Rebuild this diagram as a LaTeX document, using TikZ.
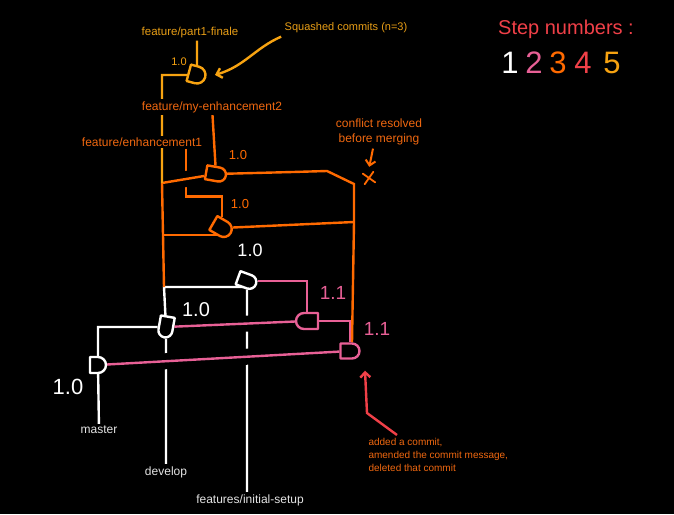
\documentclass[tikz,border=0pt]{standalone}
\usepackage{fontspec}
\setmainfont{Liberation Sans}
\usetikzlibrary{arrows.meta, shapes.misc}
\definecolor{stepB}{RGB}{232,96,150}
\definecolor{stepC}{RGB}{255,106,0}
\definecolor{stepD}{RGB}{240,64,72}
\definecolor{stepE}{RGB}{247,163,17}
\definecolor{labelC}{RGB}{240,104,16}
\definecolor{labelE}{RGB}{232,158,22}
\definecolor{labelW}{RGB}{228,228,228}
\pgfdeclarelayer{bg}
\pgfsetlayers{bg,main}

\begin{document}
\begin{tikzpicture}[x=1pt, y=-1pt, line cap=round, line join=round,
    commit/.style={draw, fill=black, line width=2.4pt, rounded rectangle,
      rounded rectangle west arc=none, inner sep=0pt},
    branch/.style={fill=black, inner sep=2pt, font=\fontsize{12}{14}\selectfont},
    ver/.style={inner sep=0pt, font=\fontsize{#1}{#1}\selectfont},
    pen/.style={line width=2.4pt},
    knock/.style={draw=black, line width=16pt, line cap=butt},
    barb/.style={-{Straight Barb[length=5pt, width=10pt]}}]
    \useasboundingbox (0,0) rectangle (674,514);

    % commits
    \node[commit, draw=white, minimum width=15pt, minimum height=16pt] (cm) at (98,365) {};
    \node[commit, draw=white, minimum width=21pt, minimum height=14pt, rotate=-100] (cd) at (166,327) {};
    \node[commit, draw=white, minimum width=19pt, minimum height=14pt, rotate=-20] (ci) at (247,281) {};
    \node[commit, draw=stepB, minimum width=22pt, minimum height=16pt, rotate=180] (p1) at (307,321) {};
    \node[commit, draw=stepB, minimum width=19pt, minimum height=15pt] (p2) at (350,351) {};
    \node[commit, draw=stepC, minimum width=20pt, minimum height=14pt, rotate=-10] (oa) at (216,174) {};
    \node[commit, draw=stepC, minimum width=20pt, minimum height=16pt, rotate=-30] (ob) at (222,228) {};
    \node[commit, draw=stepE, minimum width=17pt, minimum height=17pt, rotate=-15] (y1) at (197,75) {};

    % branch names
    \node[branch, text=labelW] (master) at (99,430) {master};
    \node[branch, text=labelW] (develop) at (166,472) {develop};
    \node[branch, text=labelW] (setup) at (250,500) {features/initial-setup};
    \node[branch, text=labelE, font=\fontsize{11.5}{14}\selectfont] (part1) at (190,33) {feature/part1-finale};
    \node[branch, text=labelC] (myenh) at (212,107) {feature/my-enhancement2};
    \node[branch, text=labelC] (enh) at (142,142) {feature/enhancement1};

    % versions
    \node[ver=22, white] (vm) at (68,387) {1.0};
    \node[ver=20, white] (vd) at (196,310) {1.0};
    \node[ver=18, white] (vi) at (250,250) {1.0};
    \node[ver=19, stepB] (vp1) at (333,293) {1.1};
    \node[ver=19, stepB] (vp2) at (377,329) {1.1};
    \node[ver=13, stepC] (va) at (238,155) {1.0};
    \node[ver=13, stepC] (vb) at (240,204) {1.0};
    \node[ver=11, stepE] (vy) at (179,62) {1.0};

    % notes
    \node[text=labelE, font=\fontsize{11}{13}\selectfont] (squash) at (346,28) {Squashed commits (n=3)};
    \node[text=labelC, align=center, font=\fontsize{12}{15}\selectfont] (conflict) at (379,132) {conflict resolved\\before merging};
    \node[draw=stepC, cross out, line width=1.8pt, minimum size=9pt, inner sep=0pt, rotate=10] (cx) at (369,178) {};
    \node[text=labelC, align=left, anchor=north west, font=\fontsize{10}{13}\selectfont] (note) at (365,435)
      {added a commit,\\amended the commit message,\\deleted that commit};
    \node[text=stepD, font=\fontsize{20}{24}\selectfont] (steps) at (566,29) {Step numbers :};
    \foreach \d/\c/\x in {1/white/510, 2/stepB/534, 3/stepC/558, 4/stepD/583, 5/stepE/612}
      \node[text=\c, font=\fontsize{31}{31}\selectfont] (step\d) at (\x,63) {\d};

    \coordinate (fork) at (162,183);
    \coordinate (split) at (164,287);
    \coordinate (merge) at (354,222);

    \begin{pgfonlayer}{bg}
    \fill[black] (0,0) rectangle (674,514);
    \draw[pen, white] (cm) -- (master) (cd) -- (develop) (ci) -- (ci |- setup.north);
    \draw[pen, white] (cm) |- (cd) (cd) -- (split) -- (split -| ci);

    \path[knock] (cd) -- (p1) (cm) -- (p2);
    \draw[pen, stepB] (cd) -- (p1) (cm) -- (p2);
    \draw[pen, stepB] (ci) -| (p1) (p1) -| (p2);

    \draw[pen, stepC] ([xshift=44pt]enh.south) -- ++(0,48) -| (ob);
    \path[knock] (fork) -- (oa);
    \draw[pen, stepC] (fork) -- (oa);
    \draw[pen, stepC] (oa) -- (293,172) -- (327,171) -- (354,184) -- (merge) -- (p2.north east);
    \draw[pen, stepC] (ob) -- (merge);
    \draw[pen, stepC] ([yshift=-7pt]ob.center) -- ([yshift=-7pt]ob.center -| fork);
    \draw[pen, stepC] (fork) -- (split) (myenh) -- (oa);

    \draw[pen, stepE] (y1) -| (fork) (y1 |- part1.south) -- (y1);
    \draw[pen, stepE, barb, shorten >=9pt] (squash.south west) .. controls (255,48) and (245,66) .. (y1.east);
    \draw[pen, stepD, barb] ([xshift=32pt]note.north west) -- ++(-30,-22) -- ([xshift=15pt, yshift=-11pt]p2.south);
    \draw[pen, stepC, line width=2pt, barb, shorten >=6pt] ([xshift=-6pt]conflict.south) -- (cx.north);
    \end{pgfonlayer}
\end{tikzpicture}
\end{document}
